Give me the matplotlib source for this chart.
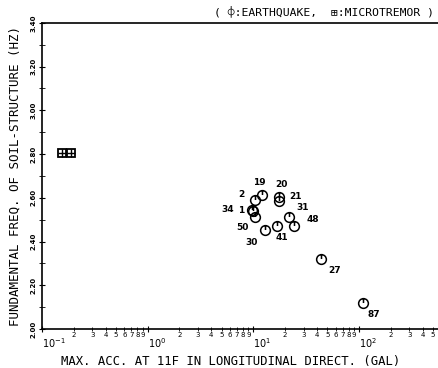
import matplotlib
matplotlib.use("Agg")
import matplotlib.pyplot as plt
import matplotlib.ticker as mticker
from matplotlib.path import Path
import numpy as np

# earthquake records: max acceleration (gal) vs fundamental frequency (Hz)
eq_labels = ['19', '2', '20', '21', '34', '1', '50', '31', '48', '41', '30', '27', '87']
eq_acc = [12.2, 10.4, 17.6, 17.6, 9.8, 9.9, 10.4, 21.9, 24.4, 16.8, 13.0, 43.9, 109.0]
eq_freq = [2.613, 2.59, 2.605, 2.585, 2.546, 2.54, 2.512, 2.512, 2.471, 2.471, 2.453, 2.32, 2.12]

# microtremor measurements
mt_acc = [0.155, 0.188]
mt_freq = [2.805, 2.805]

# label offsets in pixels (dx, dy)
label_offsets = {'19': (-3, 12), '2': (-14, 5), '20': (2, 12), '21': (16, 5),
                 '34': (-25, 0), '1': (-12, 0), '50': (-13, -10), '31': (13, 10),
                 '48': (19, 6), '41': (5, -12), '30': (-14, -13), '27': (13, -11),
                 '87': (11, -12)}

yticks = np.arange(2.0, 3.41, 0.2)

# circle with a short stem, like the plotter symbol
eq_marker = Path.make_compound_path(
    Path.unit_circle(),
    Path([(0, 0.1), (0, 1.0)], [Path.MOVETO, Path.LINETO]))

mono = 'DejaVu Sans Mono'

fig = plt.figure(figsize=(4.38, 3.68), dpi=100)
ax = fig.add_axes([0.096, 0.106, 0.904, 0.832])

ax.plot(eq_acc, eq_freq, linestyle='none', marker=eq_marker, markersize=7,
        markerfacecolor='none', markeredgecolor='black', markeredgewidth=1.1)
ax.plot(mt_acc, mt_freq, linestyle='none', marker='s', markersize=5.5,
        markerfacecolor='white', markeredgecolor='black', markeredgewidth=1.3)
ax.plot(mt_acc, mt_freq, linestyle='none', marker='+', markersize=5.5,
        markeredgecolor='black', markeredgewidth=1.0)

for lab, x, y in zip(eq_labels, eq_acc, eq_freq):
    dx, dy = label_offsets[lab]
    ax.annotate(lab, (x, y), xytext=(dx, dy), textcoords='offset pixels',
                ha='center', va='center', fontsize=6.5, fontweight='bold')

ax.set_xscale('log')
ax.set_xlim(0.1, 560)
ax.set_ylim(2.0, 3.4)

ax.xaxis.set_major_locator(mticker.LogLocator(base=10, numticks=10))
ax.xaxis.set_minor_locator(mticker.LogLocator(base=10, subs=np.arange(2, 10), numticks=20))

def minor_fmt(v, pos):
    d = v / 10 ** np.floor(np.log10(v) + 1e-9)
    return '%d' % round(d)

ax.xaxis.set_minor_formatter(mticker.FuncFormatter(minor_fmt))
ax.tick_params(axis='x', which='minor', labelsize=5, length=3, direction='inout', pad=1)
ax.tick_params(axis='x', which='major', labelsize=7, length=5, direction='inout', pad=3)
fig.canvas.draw()
for t in ax.get_xticklabels(which='major'):
    t.set_horizontalalignment('left')

ax.set_yticks(yticks)
ax.set_yticklabels(['%.2f' % v for v in yticks], rotation=90, va='center',
                   fontsize=5, fontweight='bold')
ax.yaxis.set_minor_locator(mticker.MultipleLocator(0.1))
ax.tick_params(axis='y', which='both', direction='inout', length=4, pad=2)

ax.spines['right'].set_visible(False)
for s in ['left', 'bottom', 'top']:
    ax.spines[s].set_linewidth(1.2)

ax.set_xlabel('MAX. ACC. AT 11F IN LONGITUDINAL DIRECT. (GAL)', fontsize=8.8,
              family=mono)
ax.xaxis.set_label_coords(0.477, -0.085)
ax.set_ylabel('FUNDAMENTAL FREQ. OF SOIL-STRUCTURE (HZ)', fontsize=9.0,
              family=mono)
ax.yaxis.set_label_coords(-0.052, 0.5)

fig.text(0.99, 1 - 11 / 368, '( \u233d:EARTHQUAKE,  \u229e:MICROTREMOR )',
         ha='right', va='center', fontsize=8.2, family=[mono, 'DejaVu Sans'])

fig.savefig('out.png', dpi=100)
